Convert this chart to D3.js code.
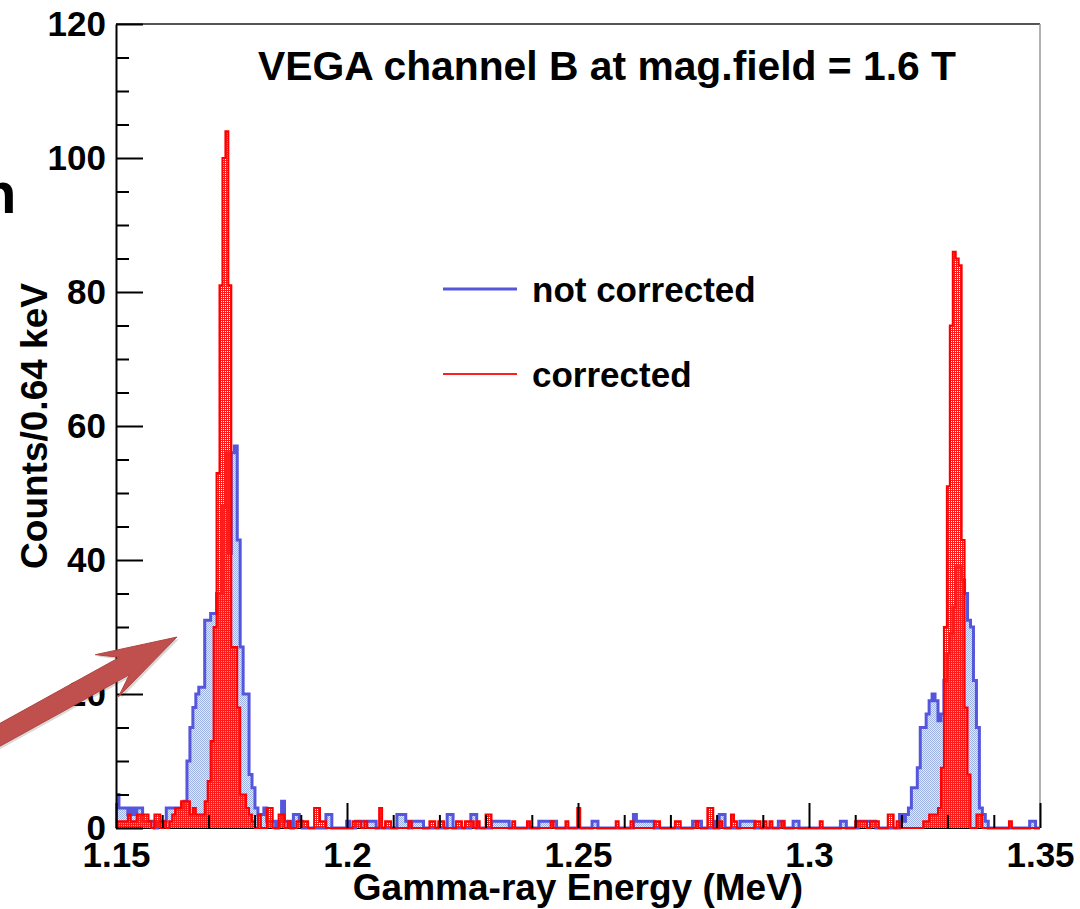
<!DOCTYPE html>
<html><head><meta charset="utf-8">
<script src="https://cdn.jsdelivr.net/npm/d3@7"></script>
<style>
html,body{margin:0;padding:0;background:#fff;}
svg{display:block;}
text{font-family:"Liberation Sans",Arial,Helvetica,sans-serif;font-weight:bold;fill:#000;}
</style></head><body>
<svg id="chart" width="1080" height="909"></svg>
<script>
// ---- data ----
const binStart = 1.15;      // MeV
const binWidth = 0.00064;   // MeV (0.64 keV)
const notCorrected = [
 5,3,3,3,2,3,2,3,3,1,
 1,1,1,0,1,1,1,3,3,3,
 3,3,3,4,10,15,18,20,21,21,
 31,31,32,32,35,35,48,56,41,56,
 57,43,27,20,20,8,6,3,2,2,
 3,1,1,1,0,1,4,1,1,0,
 2,2,1,0,0,0,0,0,0,0,
 0,2,2,0,0,0,0,0,1,0,
 0,1,1,1,1,1,1,1,0,0,
 0,0,0,0,0,2,2,2,1,0,
 1,1,1,1,0,0,0,0,0,0,
 0,0,2,2,0,0,0,0,0,0,
 2,2,0,0,0,0,0,1,1,1,
 1,1,1,0,0,0,0,0,0,0,
 0,0,0,1,1,1,1,1,1,0,
 0,0,0,0,0,0,0,0,0,0,
 0,1,1,0,0,0,0,0,0,0,
 0,0,0,0,0,2,1,1,1,1,
 1,1,0,0,0,0,0,0,0,0,
 0,0,0,0,0,1,1,1,0,0,
 0,0,1,0,2,2,0,0,0,0,
 0,1,1,1,1,1,0,0,0,0,
 0,0,0,0,1,1,0,0,0,1,
 1,0,0,0,0,0,0,0,0,0,
 0,0,0,0,0,1,1,0,0,0,
 0,1,1,1,1,1,1,0,0,0,
 0,0,0,0,0,2,1,2,3,6,
 6,9,15,15,17,19,20,19,16,17,
 22,26,29,33,39,39,37,35,31,30,
 22,15,3,2,1,0,0,0,0,0,
 0,0,0,0,0,0,0,0,0,1,
 1,0,0
];
const corrected = [
 1,1,1,1,2,1,1,2,2,2,
 2,1,0,2,2,0,1,0,1,2,
 3,3,4,4,4,2,3,2,2,2,
 4,7,13,30,53,81,100,104,81,27,
 27,18,5,5,3,2,1,0,2,0,
 0,3,3,0,0,2,2,0,1,0,
 0,1,1,1,1,0,0,3,3,1,
 1,0,0,0,0,0,0,0,0,0,
 1,1,1,0,1,0,0,0,0,3,
 0,1,1,0,0,0,0,0,0,1,
 0,0,0,0,0,0,1,1,0,1,
 1,0,0,0,0,1,1,0,1,1,
 1,0,1,0,0,2,2,0,0,0,
 0,0,0,0,1,0,0,0,0,1,
 0,0,0,0,0,0,0,1,0,0,
 0,0,1,0,0,0,3,0,0,0,
 0,0,0,0,0,0,0,0,0,1,
 0,0,0,0,1,0,0,0,0,0,
 0,0,1,1,0,0,0,0,0,1,
 1,0,0,0,0,0,1,0,0,0,
 3,3,0,0,1,0,0,0,2,1,
 0,0,0,0,0,0,1,1,0,1,
 0,1,0,0,0,1,0,0,0,0,
 0,0,0,0,0,0,0,0,1,0,
 0,0,0,0,0,0,0,0,0,0,
 1,1,1,1,0,1,1,1,0,0,
 0,2,2,0,1,0,0,0,0,0,
 0,0,0,1,1,2,2,2,3,9,
 30,51,75,86,85,84,43,18,8,0,
 0,2,2,0,0,0,0,0,0,0,
 0,0,1,0,0,0,0,0,0,0,
 0,0,0
];
const xDomain = [1.15, 1.35];
const yDomain = [0, 120];
const xMajorTicks = [1.15, 1.2, 1.25, 1.3, 1.35];
const xTickLabels = ["1.15", "1.2", "1.25", "1.3", "1.35"];
const xMinorTicks = [1.16,1.17,1.18,1.19,1.21,1.22,1.23,1.24,1.26,1.27,1.28,1.29,1.31,1.32,1.33,1.34];
const yMajorTicks = [0, 20, 40, 60, 80, 100, 120];
const yMinorTicks = [5,10,15,25,30,35,45,50,55,65,70,75,85,90,95,105,110,115];
const seriesNames = ["not corrected", "corrected"];
const titleText = "VEGA channel B at mag.field = 1.6 T";
const xTitle = "Gamma-ray Energy (MeV)";
const yTitle = "Counts/0.64 keV";
const arrowTip = [1.1632, 28.5]; // annotation arrow points here (MeV, counts)

// ---- drawing ----
const svg = d3.select("#chart");
const W = 1080, H = 909;
const m = {l:116, r:1040, t:24, b:828};
const x = d3.scaleLinear().domain(xDomain).range([m.l, m.r]);
const y = d3.scaleLinear().domain(yDomain).range([m.b, m.t]);

svg.append("rect").attr("width", W).attr("height", H).attr("fill", "#fff");

const defs = svg.append("defs");
const rp = defs.append("pattern").attr("id","redPat").attr("width",2).attr("height",2).attr("patternUnits","userSpaceOnUse");
rp.append("rect").attr("x",0).attr("y",0).attr("width",2).attr("height",1).attr("fill","#ff1a1a");
rp.append("rect").attr("x",0).attr("y",1).attr("width",1).attr("height",1).attr("fill","#ff1a1a");
const bp = defs.append("pattern").attr("id","bluePat").attr("width",2).attr("height",2).attr("patternUnits","userSpaceOnUse");
bp.append("rect").attr("width",2).attr("height",2).attr("fill","#e4eaf8");
bp.append("rect").attr("x",0).attr("y",0).attr("width",1).attr("height",1).attr("fill","#9db0e2");
bp.append("rect").attr("x",1).attr("y",1).attr("width",1).attr("height",1).attr("fill","#9db0e2");
defs.append("clipPath").attr("id","plotClip").append("rect")
  .attr("x", m.l).attr("y", m.t - 2).attr("width", m.r - m.l).attr("height", m.b - m.t + 4);

function stepPoints(vals){
  const pts = [[binStart, 0]];
  vals.forEach((v, i) => {
    const e0 = binStart + i * binWidth, e1 = e0 + binWidth;
    pts.push([e0, v], [e1, v]);
  });
  pts.push([binStart + vals.length * binWidth, 0]);
  return pts;
}
const line = d3.line().x(d => x(d[0])).y(d => y(d[1]));
const area = d3.area().x(d => x(d[0])).y0(y(0)).y1(d => y(d[1]));

// baseline axis (under histograms)
svg.append("line").attr("x1", m.l).attr("x2", m.r).attr("y1", y(0)).attr("y2", y(0))
  .attr("stroke", "#000").attr("stroke-width", 2);

const plot = svg.append("g").attr("clip-path", "url(#plotClip)");
const bPts = stepPoints(notCorrected), rPts = stepPoints(corrected);
plot.append("path").attr("d", area(bPts)).attr("fill", "url(#bluePat)");
plot.append("path").attr("d", line(bPts)).attr("fill", "none").attr("stroke", "#5656dc").attr("stroke-width", 3);
plot.append("path").attr("d", area(rPts)).attr("fill", "url(#redPat)");
plot.append("path").attr("d", line(rPts)).attr("fill", "none").attr("stroke", "#ff0000").attr("stroke-width", 2);

// frame top/right
svg.append("line").attr("x1", m.l).attr("x2", m.r).attr("y1", m.t).attr("y2", m.t).attr("stroke", "#555").attr("stroke-width", 2);
svg.append("line").attr("x1", m.r).attr("x2", m.r).attr("y1", m.t).attr("y2", m.b).attr("stroke", "#999").attr("stroke-width", 1.5);

// x axis
const gx = svg.append("g").attr("transform", `translate(0,${y(0)})`)
  .call(d3.axisBottom(x).tickValues(xMajorTicks).tickFormat((d, i) => xTickLabels[i]).tickSize(-25).tickSizeOuter(0).tickPadding(14));
gx.select(".domain").remove();
gx.selectAll("line").attr("stroke", "#000").attr("stroke-width", 2);
gx.selectAll("text").attr("font-size", 35).attr("font-family", '"Liberation Sans", Arial, sans-serif').attr("font-weight", "bold").attr("fill", "#000");
const gxm = svg.append("g").attr("transform", `translate(0,${y(0)})`)
  .call(d3.axisBottom(x).tickValues(xMinorTicks).tickFormat("").tickSize(-13).tickSizeOuter(0));
gxm.select(".domain").remove();
gxm.selectAll("line").attr("stroke", "#000").attr("stroke-width", 2);

// y axis
const gy = svg.append("g").attr("transform", `translate(${m.l},0)`)
  .call(d3.axisLeft(y).tickValues(yMajorTicks).tickSize(-27).tickSizeOuter(0).tickPadding(10));
gy.select(".domain").attr("stroke", "#000").attr("stroke-width", 2);
gy.selectAll("line").attr("stroke", "#000").attr("stroke-width", 2);
gy.selectAll("text").attr("font-size", 35).attr("font-family", '"Liberation Sans", Arial, sans-serif').attr("font-weight", "bold").attr("fill", "#000");
const gym = svg.append("g").attr("transform", `translate(${m.l},0)`)
  .call(d3.axisLeft(y).tickValues(yMinorTicks).tickFormat("").tickSize(-13).tickSizeOuter(0));
gym.select(".domain").remove();
gym.selectAll("line").attr("stroke", "#000").attr("stroke-width", 2);

// titles
svg.append("text").attr("x", 258).attr("y", 80).attr("font-size", 40)
  .attr("textLength", 698).attr("lengthAdjust", "spacingAndGlyphs").text(titleText);
svg.append("text").attr("x", (m.l + m.r) / 2).attr("y", 900).attr("text-anchor", "middle").attr("font-size", 37).text(xTitle);
svg.append("text").attr("transform", "translate(47,426) rotate(-90)").attr("text-anchor", "middle").attr("font-size", 37).text(yTitle);

// legend
const legend = svg.append("g");
const legY = [289, 374];
const legColor = ["#5656dc", "#ff2020"];
const legW = [3, 2];
seriesNames.forEach((name, i) => {
  legend.append("line").attr("x1", 443).attr("x2", 517).attr("y1", legY[i]).attr("y2", legY[i])
    .attr("stroke", legColor[i]).attr("stroke-width", legW[i]);
  legend.append("text").attr("x", 532).attr("y", legY[i] + 13).attr("font-size", 35).text(name);
});

// partial slide text at left edge
svg.append("text").attr("x", -19).attr("y", 213).attr("font-size", 58).attr("font-weight", "normal").text("n");

// annotation arrow
const tip = [x(arrowTip[0]), y(arrowTip[1])];
const ang = -28.9 * Math.PI / 180;
const u = [Math.cos(ang), Math.sin(ang)];
const n = [-u[1], u[0]];
const P = (d, w) => [tip[0] - d * u[0] + w * n[0], tip[1] - d * u[1] + w * n[1]];
const arrowPts = [tip, P(80, 24), P(60, 10), P(260, 10), P(260, -10), P(60, -10), P(80, -24)];
svg.append("path").attr("d", d3.line()(arrowPts.map(p => [p[0] + 2, p[1] + 2])) + "Z").attr("fill", "rgba(0,0,0,0.15)");
svg.append("path").attr("d", d3.line()(arrowPts) + "Z").attr("fill", "#c0504d").attr("stroke", "#b04642").attr("stroke-width", 1);
</script>
</body></html>
